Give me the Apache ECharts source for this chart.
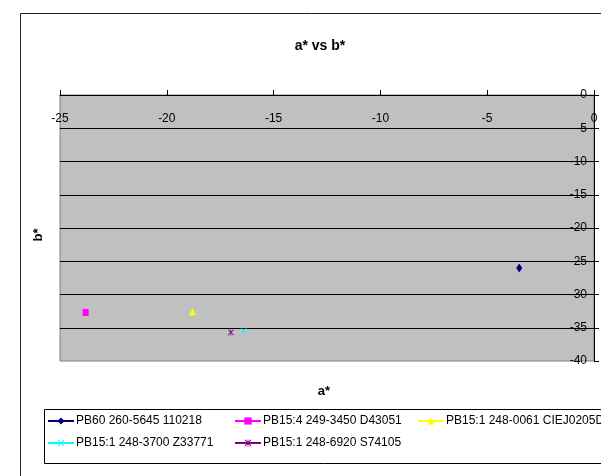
<!DOCTYPE html>
<html>
<head>
<meta charset="utf-8">
<script src="https://cdn.jsdelivr.net/npm/echarts@6/dist/echarts.min.js"></script>
<style>
html,body{margin:0;padding:0;background:#fff;}
#chart{width:601px;height:476px;}
</style>
</head>
<body>
<div id="chart"></div>
<script>
// ---- data ----
const seriesNames = [
  'PB60 260-5645 110218',
  'PB15:4 249-3450 D43051',
  'PB15:1 248-0061 CIEJ0205D',
  'PB15:1 248-3700 Z33771',
  'PB15:1 248-6920 S74105'
];
const aValues = [-3.5, -23.8, -18.8, -16.4, -17.0];
const bValues = [-26.0, -32.7, -32.6, -35.5, -35.7];
const xTickMin = -25, xTickMax = 0, xTickStep = 5;
const yTickMin = -40, yTickMax = 0, yTickStep = 5;

// ---- styles ----
const colors = ['#000080', '#FF00FF', '#FFFF00', '#00FFFF', '#800080'];
const xPath = 'path://M0,1L1,0L5,4L9,0L10,1L6,5L10,9L9,10L5,6L1,10L0,9L4,5Z';
const starPath = 'path://M0,1L1,0L4.4,3.4L4.4,0L5.6,0L5.6,3.4L9,0L10,1L6,5L10,9L9,10L5.6,6.6L5.6,10L4.4,10L4.4,6.6L1,10L0,9L4,5Z';
const symbols = ['diamond', 'rect', 'triangle', xPath, starPath];
const symbolSizes = [[6, 9], [6, 7], [7, 7], [6, 6], [6, 6]];
const legendPos = [[47, 414], [234, 414], [417, 414], [47, 436], [234, 436]];
const FONT = 'Liberation Sans, Arial, sans-serif';

const chart = echarts.init(document.getElementById('chart'), null, {renderer: 'canvas'});

const series = seriesNames.map((name, i) => ({
  name: name,
  type: 'line',
  data: [[aValues[i], bValues[i]]],
  symbol: symbols[i],
  symbolSize: symbolSizes[i],
  showSymbol: true,
  lineStyle: {color: colors[i], width: 1},
  itemStyle: {color: colors[i], borderWidth: 0},
  emphasis: {disabled: true},
  z: 5
}));

const legends = seriesNames.map((name, i) => ({
  data: [name],
  left: legendPos[i][0],
  top: legendPos[i][1],
  padding: 0,
  itemWidth: 26,
  itemHeight: 9,
  selectedMode: false,
  textStyle: {fontFamily: FONT, fontSize: 12, color: '#000', lineHeight: 14, padding: [0, 0, 0, -3]}
}));

chart.setOption({
  animation: false,
  backgroundColor: '#fff',
  title: {
    text: 'a* vs b*',
    left: 315,
    textAlign: 'center',
    top: 34,
    textStyle: {fontFamily: FONT, fontSize: 14, fontWeight: 'bold', color: '#000'}
  },
  legend: legends,
  grid: {
    left: 60, top: 95, width: 534, height: 266,
    show: true, backgroundColor: '#C0C0C0', borderColor: '#808080', borderWidth: 1
  },
  xAxis: {
    type: 'value', position: 'top',
    min: xTickMin, max: xTickMax, interval: xTickStep,
    axisLine: {show: true, onZero: false, lineStyle: {color: '#000', width: 1}},
    axisTick: {show: true, inside: false, length: 5, lineStyle: {color: '#000'}},
    axisLabel: {inside: true, margin: 18, fontFamily: FONT, fontSize: 12, color: '#000'},
    splitLine: {show: false}
  },
  yAxis: {
    type: 'value', position: 'right',
    min: yTickMin, max: yTickMax, interval: yTickStep,
    axisLine: {show: true, onZero: false, lineStyle: {color: '#000', width: 1}},
    axisTick: {show: true, inside: false, length: 5, lineStyle: {color: '#000'}},
    axisLabel: {inside: true, margin: 7, fontFamily: FONT, fontSize: 12, color: '#000'},
    splitLine: {show: true, showMinLine: false, showMaxLine: false, lineStyle: {color: '#000', width: 1}}
  },
  graphic: [
    {type: 'rect', shape: {x: 20.5, y: 13.5, width: 700, height: 600}, style: {fill: null, stroke: '#222', lineWidth: 1}, z: -10, silent: true},
    {type: 'rect', shape: {x: 44.5, y: 409.5, width: 700, height: 54}, style: {fill: null, stroke: '#000', lineWidth: 1}, z: -5, silent: true},
    {type: 'text', x: 324, y: 391, style: {text: 'a*', fontFamily: FONT, fontSize: 13, fontWeight: 'bold', fill: '#000', textAlign: 'center', textVerticalAlign: 'middle'}, silent: true},
    {type: 'text', x: 38, y: 235, rotation: Math.PI / 2, style: {text: 'b*', fontFamily: FONT, fontSize: 13, fontWeight: 'bold', fill: '#000', textAlign: 'center', textVerticalAlign: 'middle'}, silent: true}
  ],
  series: series
});
</script>
</body>
</html>
